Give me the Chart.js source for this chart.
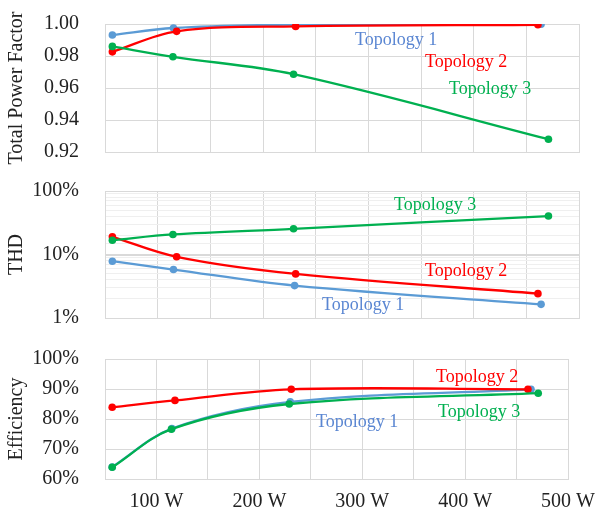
<!DOCTYPE html>
<html>
<head>
<meta charset="utf-8">
<script src="https://cdn.jsdelivr.net/npm/chart.js@4"></script>
<style>
	html, body { margin: 0; padding: 0; background: #fff; }
	#wrap { position: relative; width: 606px; height: 517px; overflow: hidden; }
	#wrap canvas { position: absolute; left: 0; top: 0; }
	#wrap #pf { top: -16px; }
</style>
</head>
<body>
<div id="wrap">
	<canvas id="pf" width="606" height="517"></canvas>
	<canvas id="thd" width="606" height="517"></canvas>
	<canvas id="eff" width="606" height="517"></canvas>
</div>
<script>
const seriesNames = ['Topology 1', 'Topology 2', 'Topology 3']

// load in W for each topology
const loadT1 = [57, 115, 230, 464]
const loadT2 = [57, 118, 231, 461]
const loadT3 = [57, 114.5, 229, 471]

const pfT1 = [0.9931, 0.9975, 0.9996, 0.9998]
const pfT2 = [0.9826, 0.9954, 0.9985, 0.9995]
const pfT3 = [0.986, 0.9795, 0.9686, 0.928]

// THD in %
const thdT1 = [7.85, 5.8, 3.24, 1.64]
const thdT2 = [19.0, 9.2, 4.95, 2.42]
const thdT3 = [16.8, 20.7, 25.4, 40.3]

// efficiency in %
const effT1 = [64.0, 76.8, 85.7, 89.9]
const effT2 = [83.9, 86.2, 89.9, 89.9]
const effT3 = [63.9, 76.6, 85.0, 88.6]

const colors = ['#5b9bd5', '#ff0000', '#00b050']
const textColors = ['#5a86d2', '#ff0000', '#00b050']
const serif = 'Liberation Serif'
const gridColor = '#d9d9d9'

function points(xs, ys) {
	return xs.map((x, i) => ({ x: x, y: ys[i] }))
}

function makeDatasets(t1, t2, t3) {
	const loads = [loadT1, loadT2, loadT3]
	return [t1, t2, t3].map((vals, i) => ({
		label: seriesNames[i],
		data: points(loads[i], vals),
		borderColor: colors[i],
		backgroundColor: colors[i],
		pointBackgroundColor: colors[i],
		pointBorderColor: colors[i],
		pointRadius: 3.8,
		pointBorderWidth: 0,
		borderWidth: 2.3,
		tension: 0.35,
		order: 3 - i,
	}))
}

// dy: canvas offset on the page, so labels keep page coordinates
function labelsPlugin(items, dy) {
	return {
		id: 'topoLabels',
		afterDraw(chart) {
			const ctx = chart.ctx
			ctx.save()
			ctx.font = '18px "' + serif + '"'
			ctx.textAlign = 'left'
			ctx.textBaseline = 'middle'
			items.forEach(it => {
				ctx.fillStyle = textColors[it.s]
				ctx.fillText(seriesNames[it.s], it.x, it.y - dy)
			})
			ctx.restore()
		},
	}
}

function xAxis(showLabels) {
	return {
		type: 'linear',
		min: 50,
		max: 500,
		grid: { color: gridColor, drawTicks: false },
		border: { color: gridColor },
		ticks: {
			display: showLabels,
			stepSize: 50,
			autoSkip: false,
			maxRotation: 0,
			padding: 11,
			color: '#222',
			font: { family: serif, size: 20 },
			callback: v => (v % 100 === 0 ? v + ' W' : ''),
		},
		afterFit: s => { s.height = showLabels ? 31 : 0 },
	}
}

function yAxis(title, extra) {
	return Object.assign({
		title: {
			display: true,
			text: title,
			color: '#222',
			font: { family: serif, size: 20 },
			padding: { top: 5, bottom: 0 },
		},
		grid: { color: gridColor, drawTicks: false },
		border: { color: gridColor },
		afterFit: s => { s.width = 105 },
	}, extra)
}

function renderChart(canvasId, datasets, yScale, pad, labels, showX, dy) {
	const ctx = document.getElementById(canvasId).getContext('2d')
	return new Chart(ctx, {
		type: 'line',
		data: { datasets: datasets },
		options: {
			responsive: false,
			animation: false,
			layout: { padding: pad },
			scales: { x: xAxis(showX), y: yScale },
			plugins: { legend: { display: false }, tooltip: { enabled: false } },
		},
		plugins: [labelsPlugin(labels, dy)],
	})
}

const tickFont = { family: serif, size: 20 }

renderChart('pf', makeDatasets(pfT1, pfT2, pfT3),
	yAxis('Total Power Factor', {
		min: 0.92,
		max: 1.0,
		ticks: { stepSize: 0.02, padding: 26, color: '#222', font: tickFont, callback: v => v.toFixed(2) },
	}),
	{ top: 40, right: 27, bottom: 349, left: 0 },
	[{ s: 0, x: 355, y: 40 }, { s: 1, x: 425, y: 62 }, { s: 2, x: 449, y: 89 }],
	false, -16)

renderChart('thd', makeDatasets(thdT1, thdT2, thdT3),
	yAxis('THD', {
		type: 'logarithmic',
		min: 1,
		max: 100,
		grid: {
			drawTicks: false,
			color: c => ([1, 10, 100].includes(c.tick.value) ? gridColor : '#efefef'),
			lineWidth: c => (c.tick.value === 10 ? 2 : 1),
		},
		ticks: {
			autoSkip: false,
			padding: 26,
			color: '#222',
			font: tickFont,
			callback: v => ([1, 10, 100].includes(v) ? v + '%' : ''),
		},
	}),
	{ top: 191, right: 27, bottom: 199, left: 0 },
	[{ s: 2, x: 394, y: 205 }, { s: 1, x: 425, y: 271 }, { s: 0, x: 322, y: 305 }],
	false, 0)

renderChart('eff', makeDatasets(effT1, effT2, effT3),
	yAxis('Efficiency', {
		min: 60,
		max: 100,
		ticks: { stepSize: 10, padding: 26, color: '#222', font: tickFont, callback: v => v + '%' },
	}),
	{ top: 359, right: 27, bottom: 0, left: 0 },
	[{ s: 1, x: 436, y: 377 }, { s: 2, x: 438, y: 412 }, { s: 0, x: 316, y: 422 }],
	true, 0)
</script>
</body>
</html>
